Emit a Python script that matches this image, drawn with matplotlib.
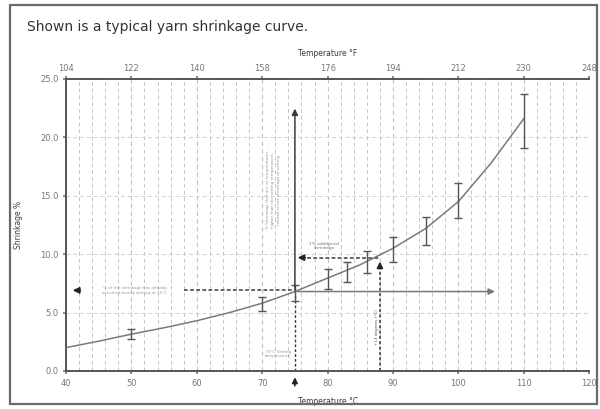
import matplotlib
matplotlib.use('Agg')
import matplotlib.pyplot as plt
from matplotlib.patches import Rectangle
import numpy as np

# smooth shrinkage curve
curve_c = [40, 45, 50, 55, 60, 65, 70, 75, 80, 85, 90, 95, 100, 105, 110]
curve_pct = [2.0, 2.55, 3.15, 3.7, 4.3, 5.0, 5.8, 6.8, 7.95, 9.1, 10.5, 12.2, 14.5, 17.8, 21.6]

# measured points with error bars
meas_c = [50, 70, 75, 80, 83, 86, 90, 95, 100, 110]
meas_pct = [3.15, 5.7, 6.7, 7.9, 8.5, 9.35, 10.4, 12.0, 14.6, 21.4]
meas_err = [0.45, 0.6, 0.7, 0.85, 0.85, 0.95, 1.1, 1.2, 1.5, 2.3]

c_ticks = [40, 50, 60, 70, 80, 90, 100, 110, 120]
f_ticks = [104, 122, 140, 158, 176, 194, 212, 230, 248]
y_ticks = [0, 5, 10, 15, 20, 25]

set_temp = 75
set_pct = 6.8
extra_temp = 88
extra_pct = 9.7

dark = '#3a3a3a'
grey = '#777777'
light = '#c4c4c4'

fig = plt.figure(figsize=(6, 4.09), dpi=100)
ax = fig.add_axes([0.11, 0.093, 0.872, 0.714])

# outer frame of the scan
fig.patches.append(Rectangle((0.017, 0.012), 0.978, 0.976, transform=fig.transFigure,
                             fill=False, edgecolor='#6a6a6a', linewidth=1.6))
fig.text(0.045, 0.935, "Shown is a typical yarn shrinkage curve.", fontsize=10,
         color='#333333', ha='left', va='center')

ax.set_xlim(40, 120)
ax.set_ylim(0, 25)
ax.set_xticks(c_ticks)
ax.set_yticks(y_ticks)
ax.set_yticklabels([f"{v:.1f}" for v in y_ticks])
ax.set_xticks(np.arange(40, 121, 2), minor=True)
ax.tick_params(labelsize=6, colors=grey, length=2, width=1.2)
ax.tick_params(which='minor', length=0)
for s in ['top', 'right']:
    ax.spines[s].set_visible(False)
for s in ['left', 'bottom']:
    ax.spines[s].set_color('#555555')
    ax.spines[s].set_linewidth(1.4)
ax.grid(which='minor', axis='x', color=light, linestyle=(0, (4, 3)), linewidth=0.7)
ax.grid(which='major', axis='x', color=light, linestyle=(0, (4, 3)), linewidth=0.8)
ax.grid(which='major', axis='y', color='#d0d0d0', linestyle=(0, (4, 3)), linewidth=0.7)
ax.set_axisbelow(True)
ax.set_xlabel("Temperature °C", fontsize=5.5, color=dark, labelpad=7)
ax.set_ylabel("Shrinkage %", fontsize=5.5, color=dark, labelpad=12)

# Fahrenheit axis on top
ax2 = ax.twiny()
ax2.set_xlim(40 * 1.8 + 32, 120 * 1.8 + 32)
ax2.set_xticks(f_ticks)
ax2.tick_params(labelsize=6, colors=grey, length=2, width=1.2, pad=2)
for s in ['bottom', 'left', 'right']:
    ax2.spines[s].set_visible(False)
ax2.spines['top'].set_color('#555555')
ax2.spines['top'].set_linewidth(1.4)
ax2.set_xlabel("Temperature °F", fontsize=5.5, color=dark, labelpad=6)

# curve and measurements
ax.plot(curve_c, curve_pct, color='#7a7a7a', linewidth=1.1, zorder=3)
ax.errorbar(meas_c, meas_pct, yerr=meas_err, fmt='none', ecolor='#555555',
            elinewidth=1.0, capsize=3, capthick=1.0, zorder=3)

# setting temperature guide lines
ax.annotate('', xy=(set_temp, 22.7), xytext=(set_temp, set_pct),
            arrowprops=dict(arrowstyle='-|>', color=dark, lw=1.1, mutation_scale=9))
ax.plot([set_temp, set_temp], [0, set_pct], color=dark, linestyle=(0, (2, 1.5)), lw=1.0)
ax.annotate('', xy=(106, set_pct), xytext=(set_temp, set_pct),
            arrowprops=dict(arrowstyle='-|>', color=grey, lw=1.1, mutation_scale=9))
ax.plot([58, set_temp], [set_pct + 0.1, set_pct + 0.1], color=dark,
        linestyle=(0, (2.5, 1.5)), lw=1.1)
ax.annotate('', xy=(40.6, set_pct + 0.1), xytext=(42.6, set_pct + 0.1),
            arrowprops=dict(arrowstyle='-|>', color='#222222', lw=1.3, mutation_scale=9))
ax.text(50.5, set_pct + 0.1, "½ of the shrinkage has already\noccurred during setting at 75°C",
        fontsize=3, color='#999999', ha='center', va='center', linespacing=1.3)
ax.text(set_temp - 3.3, 15.5, "% Shrinkage (hot-air) at temperatures\nhigher than the setting temperature,\nrelated to the shrinkage at setting",
        fontsize=3, color='#999999', ha='center', va='center', rotation=90, linespacing=1.4)
ax.text(set_temp - 2.6, 1.45, "75°C Setting\ntemperature", fontsize=3, color='#999999',
        ha='center', va='center', linespacing=1.3)
ax.annotate('', xy=(set_temp, -0.3), xytext=(set_temp, -1.5),
            arrowprops=dict(arrowstyle='-|>', color='#222222', lw=1.2, mutation_scale=8),
            annotation_clip=False)

# extra shrinkage guide lines
ax.plot([set_temp + 1, extra_temp], [extra_pct, extra_pct], color=dark,
        linestyle=(0, (2.5, 1.5)), lw=1.1)
ax.annotate('', xy=(set_temp, extra_pct), xytext=(set_temp + 2, extra_pct),
            arrowprops=dict(arrowstyle='-|>', color='#222222', lw=1.2, mutation_scale=9))
ax.text(79.5, 10.7, "1% additional\nshrinkage", fontsize=3.2, color='#777777',
        ha='center', va='center', linespacing=1.3)
ax.plot([extra_temp, extra_temp], [0, 9.0], color=dark, linestyle=(0, (2, 1.5)), lw=1.1)
ax.annotate('', xy=(extra_temp, 9.6), xytext=(extra_temp, 8.6),
            arrowprops=dict(arrowstyle='-|>', color='#222222', lw=1.2, mutation_scale=9))
ax.text(extra_temp - 0.4, 3.8, "+13 degrees (°C)", fontsize=3, color='#555555',
        ha='center', va='center', rotation=90)

fig.savefig('out.png', dpi=100)
